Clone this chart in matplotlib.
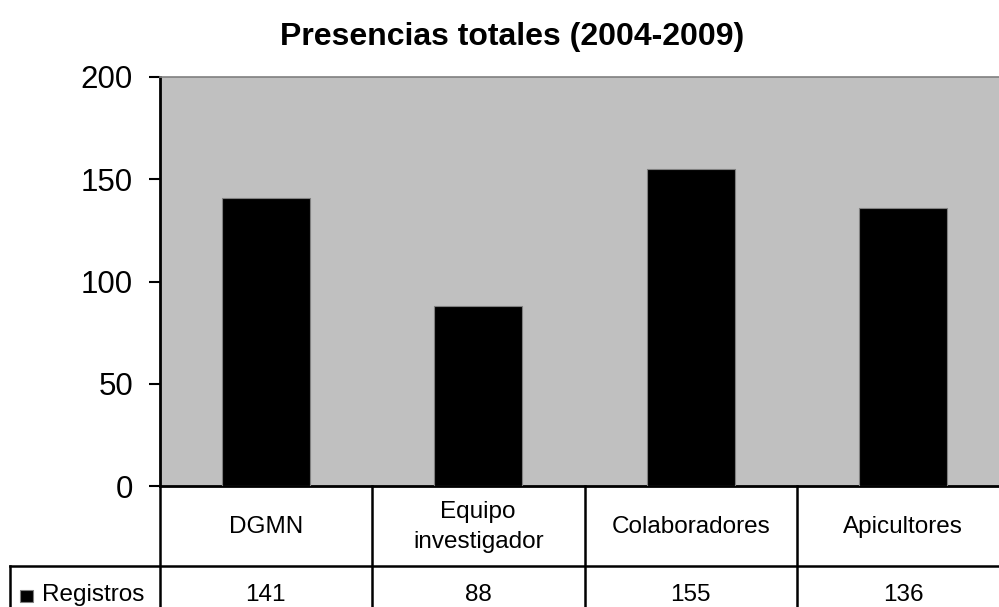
import matplotlib.pyplot as plt
from matplotlib.lines import Line2D
from matplotlib.patches import Rectangle
from matplotlib.transforms import blended_transform_factory

# data
categories = ["DGMN", "Equipo\ninvestigador", "Colaboradores", "Apicultores"]
registros = [141, 88, 155, 136]
series_name = "Registros"
title = "Presencias totales (2004-2009)"
yticks = [0, 50, 100, 150, 200]

plt.rcParams['font.family'] = ['Liberation Sans', 'DejaVu Sans']

W, H = 999, 607
fig = plt.figure(figsize=(W / 100, H / 100), dpi=100)


def fx(px):
    # pixel column -> figure fraction
    return px / W


def fy(py):
    # pixel row (from top) -> figure fraction
    return 1 - py / H


# plot area: four 212.5 px slots starting at x=159.5, value 0 at row 486, 200 at row 77
slot = 212.5
ax = fig.add_axes([fx(159.5), fy(486), len(categories) * slot / W, (486 - 77) / H])

x = list(range(len(categories)))
ax.bar(x, registros, width=0.415, color="black", edgecolor="#808080", linewidth=0.8, zorder=3)

ax.set_facecolor("#c0c0c0")
ax.set_xlim(-0.5, len(categories) - 0.5)
ax.set_ylim(0, 200)
ax.set_yticks(yticks)
ax.set_xticks([])
ax.tick_params(axis="y", labelsize=22.5, length=8, width=1.5, pad=11, direction="out")

ax.spines["top"].set_color("#808080")
ax.spines["top"].set_linewidth(1.2)
ax.spines["right"].set_visible(False)
ax.spines["left"].set_linewidth(2)
ax.spines["bottom"].set_linewidth(2)

# data table under the chart
trans = blended_transform_factory(ax.transData, fig.transFigure)
row1_top, row1_bot, row2_bot = fy(486), fy(566), fy(640)
table_kw = dict(color="black", lw=1.8, clip_on=False)

for i in range(len(categories) + 1):
    xi = i - 0.5
    ax.plot([xi, xi], [row2_bot, row1_top], transform=trans, **table_kw)

fig.add_artist(Line2D([fx(10), 1.05], [row1_bot, row1_bot], transform=fig.transFigure, **table_kw))
fig.add_artist(Line2D([fx(10), fx(10)], [row2_bot, row1_bot], transform=fig.transFigure, **table_kw))

for i, (cat, val) in enumerate(zip(categories, registros)):
    ax.text(i, fy(527), cat, transform=trans, ha="center", va="center",
            fontsize=17.5, linespacing=1.45)
    ax.text(i, fy(595), str(val), transform=trans, ha="center", va="center", fontsize=17.5)

# legend key in the table row header
fig.add_artist(Rectangle((fx(20), fy(602)), fx(13), 12 / H, transform=fig.transFigure,
                         facecolor="black", edgecolor="#808080", linewidth=0.8))
fig.text(fx(42), fy(595), series_name, ha="left", va="center", fontsize=17.5)

fig.text(fx(512), fy(37), title, ha="center", va="center", fontsize=23, fontweight="bold")

fig.savefig("out.png", dpi=100)
